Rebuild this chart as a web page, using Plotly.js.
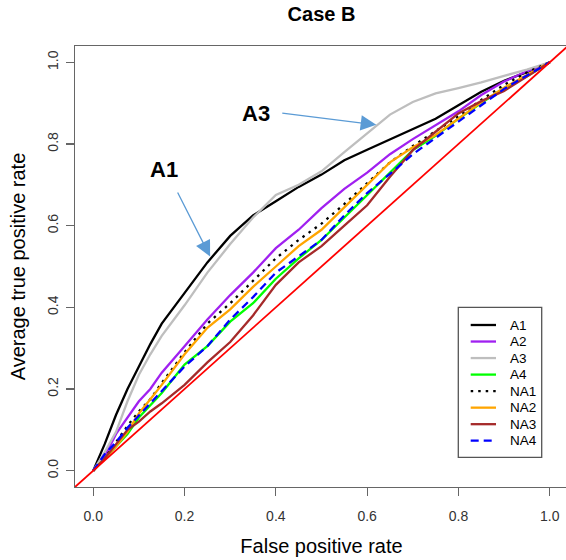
<!DOCTYPE html>
<html>
<head>
<meta charset="utf-8">
<script src="https://cdn.plot.ly/plotly-3.0.1.min.js"></script>
<style>
html,body{margin:0;padding:0;overflow:hidden;background:#fff;}
#chart{width:568px;height:560px;}
</style>
</head>
<body>
<div id="chart"></div>
<script>
// False positive rate grid (x values)
var fpr = [0, 0.025, 0.05, 0.075, 0.1, 0.125, 0.15, 0.2, 0.25, 0.3, 0.35, 0.4, 0.45, 0.5, 0.55, 0.6, 0.65, 0.7, 0.75, 0.8, 0.85, 0.9, 0.95, 1];
// Average true positive rate per method
var A1  = [0, 0.065, 0.137, 0.20, 0.255, 0.31, 0.36, 0.435, 0.51, 0.575, 0.625, 0.66, 0.695, 0.725, 0.76, 0.786, 0.812, 0.836, 0.862, 0.895, 0.928, 0.955, 0.976, 1];
var A2  = [0, 0.035, 0.09, 0.13, 0.17, 0.20, 0.24, 0.305, 0.37, 0.43, 0.485, 0.545, 0.59, 0.643, 0.69, 0.73, 0.775, 0.812, 0.845, 0.88, 0.92, 0.953, 0.978, 1];
var A3  = [0, 0.045, 0.095, 0.17, 0.235, 0.285, 0.33, 0.405, 0.485, 0.555, 0.62, 0.675, 0.70, 0.733, 0.78, 0.827, 0.872, 0.903, 0.924, 0.937, 0.951, 0.967, 0.982, 1];
var A4  = [0, 0.03, 0.06, 0.09, 0.13, 0.16, 0.19, 0.26, 0.305, 0.365, 0.41, 0.47, 0.52, 0.565, 0.62, 0.675, 0.73, 0.785, 0.82, 0.862, 0.90, 0.937, 0.966, 1];
var NA1 = [0, 0.03, 0.07, 0.11, 0.145, 0.175, 0.215, 0.29, 0.36, 0.41, 0.465, 0.52, 0.565, 0.605, 0.653, 0.705, 0.755, 0.795, 0.832, 0.868, 0.908, 0.945, 0.975, 1];
var NA2 = [0, 0.03, 0.06, 0.095, 0.14, 0.175, 0.21, 0.285, 0.35, 0.395, 0.45, 0.50, 0.55, 0.59, 0.645, 0.70, 0.755, 0.792, 0.822, 0.862, 0.902, 0.938, 0.97, 1];
var NA3 = [0, 0.03, 0.065, 0.10, 0.12, 0.145, 0.165, 0.21, 0.265, 0.315, 0.38, 0.455, 0.51, 0.55, 0.60, 0.65, 0.72, 0.785, 0.83, 0.875, 0.905, 0.93, 0.965, 1];
var NA4 = [0, 0.04, 0.07, 0.105, 0.135, 0.165, 0.195, 0.255, 0.305, 0.37, 0.425, 0.485, 0.525, 0.565, 0.625, 0.68, 0.727, 0.775, 0.815, 0.855, 0.895, 0.935, 0.968, 1];

var seriesNames = ['A1', 'A2', 'A3', 'A4', 'NA1', 'NA2', 'NA3', 'NA4'];
var seriesValues = [A1, A2, A3, A4, NA1, NA2, NA3, NA4];
var seriesColors = ['#000000', '#A020F0', '#BEBEBE', '#00FF00', '#000000', '#FFA500', '#A52A2A', '#0000FF'];
var seriesDash = ['solid', 'solid', 'solid', 'solid', '2.5px,5px', 'solid', 'solid', '8px,5px'];

var tickVals = [0, 0.2, 0.4, 0.6, 0.8, 1.0];
var tickText = ['0.0', '0.2', '0.4', '0.6', '0.8', '1.0'];
var axisRange = [-0.04, 1.04];

var traces = seriesNames.map(function (n, i) {
  return {
    x: fpr, y: seriesValues[i], name: n, type: 'scatter', mode: 'lines',
    line: {color: seriesColors[i], width: 2.3, dash: seriesDash[i]}, showlegend: false
  };
});

var W = 568, H = 560, M = {l: 75, r: 0, t: 46, b: 73};
var PW = W - M.l - M.r, PH = H - M.t - M.b;
function px2paperX(px) { return (px - M.l) / PW; }
function px2paperY(py) { return (H - M.b - py) / PH; }

var font = 'Liberation Sans, Arial, sans-serif';
var axisCommon = {
  range: axisRange, tickvals: tickVals, ticktext: tickText,
  showgrid: false, zeroline: false, showline: true, mirror: true,
  linecolor: '#666', linewidth: 1.3, ticks: 'outside', ticklen: 8, tickwidth: 1.2, tickcolor: '#666',
  tickfont: {family: font, size: 14, color: '#333'}
};

// drawn legend (box, sample lines, labels)
var shapes = [{
  type: 'line', xref: 'x', yref: 'y', layer: 'above',
  x0: axisRange[0], y0: axisRange[0], x1: axisRange[1], y1: axisRange[1],
  line: {color: '#FF0000', width: 1.8}
}, {
  type: 'rect', xref: 'paper', yref: 'paper', layer: 'above',
  x0: px2paperX(458.3), x1: px2paperX(541.7), y0: px2paperY(457.3), y1: px2paperY(307.3),
  fillcolor: '#fff', line: {color: '#555', width: 1.3}
}];
var annotations = [];
seriesNames.forEach(function (n, i) {
  var rowY = px2paperY(325 + i * 16.53);
  shapes.push({
    type: 'line', xref: 'paper', yref: 'paper', layer: 'above',
    x0: px2paperX(470.7), x1: px2paperX(496), y0: rowY, y1: rowY,
    line: {color: seriesColors[i], width: 2.3, dash: seriesDash[i]}
  });
  annotations.push({
    text: n, xref: 'paper', yref: 'paper', x: px2paperX(508), y: rowY,
    xanchor: 'left', yanchor: 'middle', showarrow: false,
    font: {family: font, size: 13.5, color: '#000'}
  });
});

annotations.push(
  {text: '<b>A3</b>', x: 0.3557, y: 0.8743, xref: 'x', yref: 'y', showarrow: false,
   font: {family: font, size: 22, color: '#000'}},
  {text: '<b>A1</b>', x: 0.155, y: 0.7365, xref: 'x', yref: 'y', showarrow: false,
   font: {family: font, size: 22, color: '#000'}},
  {text: ' ', x: 0.620, y: 0.847, xref: 'x', yref: 'y', showarrow: true, ax: -96, ay: -12,
   arrowhead: 2, arrowsize: 2.4, arrowwidth: 1.3, arrowcolor: '#5B9BD5', standoff: 0, font: {size: 2}},
  {text: ' ', x: 0.256, y: 0.5245, xref: 'x', yref: 'y', showarrow: true, ax: -34, ay: -67,
   arrowhead: 2, arrowsize: 2.4, arrowwidth: 1.3, arrowcolor: '#5B9BD5', standoff: 0, font: {size: 2}}
);

var layout = {
  width: W, height: H,
  margin: M,
  paper_bgcolor: '#fff', plot_bgcolor: '#fff',
  title: {text: '<b>Case B</b>', font: {family: font, size: 20, color: '#000'},
          x: 0.5, xref: 'paper', y: 1 - 14 / 560, yref: 'container', yanchor: 'middle'},
  xaxis: Object.assign({}, axisCommon, {
    ticklabelstandoff: 8,
    title: {text: 'False positive rate', font: {family: font, size: 20, color: '#000'}, standoff: 16}
  }),
  yaxis: Object.assign({}, axisCommon, {
    tickangle: -90, ticklabelstandoff: 2,
    title: {text: 'Average true positive rate', font: {family: font, size: 20, color: '#000'}, standoff: 14}
  }),
  showlegend: false,
  shapes: shapes,
  annotations: annotations
};

Plotly.newPlot('chart', traces, layout, {displayModeBar: false, staticPlot: true});
</script>
</body>
</html>
